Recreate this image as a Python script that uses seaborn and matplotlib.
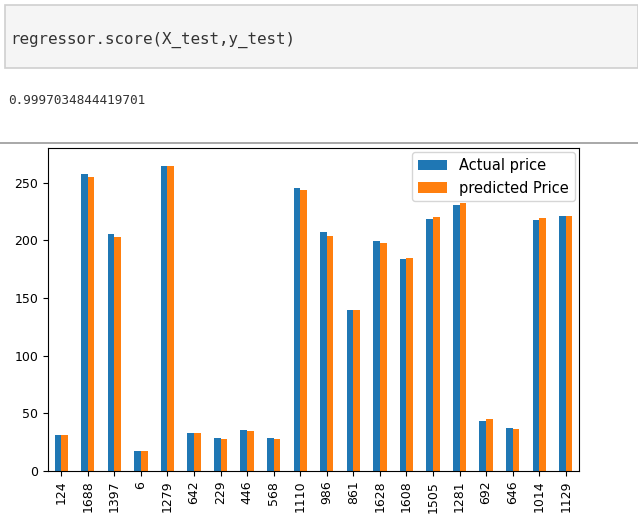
import pandas as pd
import seaborn as sns
import matplotlib.pyplot as plt
from matplotlib.patches import Rectangle

# test-set indices and prices
idx = ['124', '1688', '1397', '6', '1279', '642', '229', '446', '568', '1110',
       '986', '861', '1628', '1608', '1505', '1281', '692', '646', '1014', '1129']
actual = [31, 257.5, 205.5, 17.5, 264, 33, 29, 35.5, 28.5, 245.5,
          207, 140, 199, 183.5, 218.5, 231, 43.5, 37, 218, 221]
predicted = [31, 255, 203, 17, 264, 33, 28, 35, 28, 244,
             204, 140, 198, 184.5, 220, 232, 45.5, 36, 219, 221]

df = pd.DataFrame({'idx': idx, 'Actual price': actual, 'predicted Price': predicted})
long = df.melt(id_vars='idx', var_name='kind', value_name='price')

fig = plt.figure(figsize=(6.38, 5.19), dpi=100)

# notebook cell chrome
W, H = 638, 519
fig.patches.append(Rectangle((5 / W, 1 - 68 / H), 633 / W, 63 / H, transform=fig.transFigure,
                             facecolor='#f5f5f5', edgecolor='#cfcfcf', lw=1.2))
fig.text(10 / W, 1 - 40 / H, 'regressor.score(X_test,y_test)', family='DejaVu Sans Mono',
         fontsize=11.4, color='#333333', va='center')
fig.text(8 / W, 1 - 100 / H, '0.9997034844419701', family='DejaVu Sans Mono',
         fontsize=9.2, color='#333333', va='center')
fig.add_artist(plt.Line2D([0, 1], [1 - 143 / H, 1 - 143 / H], transform=fig.transFigure,
                          color='#9a9a9a', lw=1.2))

ax = fig.add_axes([48 / W, 1 - 471 / H, 531 / W, 323 / H])
sns.barplot(data=long, x='idx', y='price', hue='kind', ax=ax, width=0.5,
            palette=['#1f77b4', '#ff7f0e'], saturation=1)
ax.set_ylim(0, 280)
ax.set_xlabel('')
ax.set_ylabel('')
ax.tick_params(axis='x', labelrotation=90, labelsize=9)
ax.tick_params(axis='y', labelsize=9)
ax.legend(loc='upper right', fontsize=10.5, title=None, borderaxespad=0.3)

fig.savefig('out.png', dpi=100)
